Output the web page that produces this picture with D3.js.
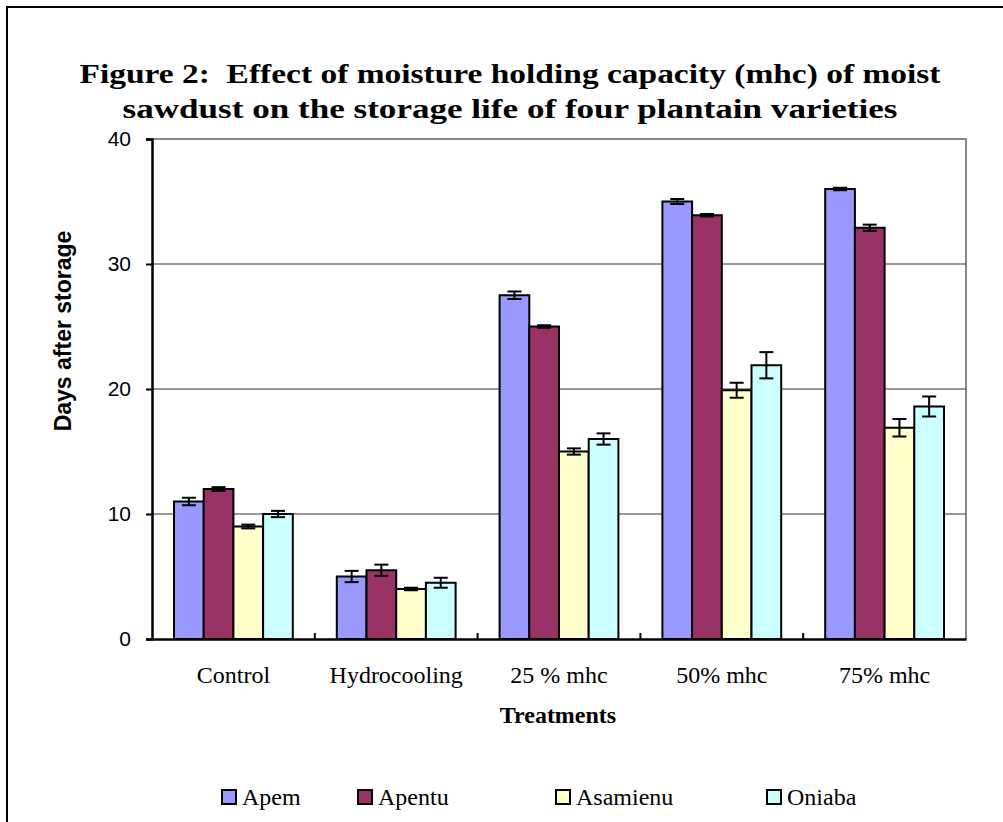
<!DOCTYPE html>
<html>
<head>
<meta charset="utf-8">
<script src="https://cdn.jsdelivr.net/npm/d3@7"></script>
<style>
  body { margin: 0; background: #fff; }
  svg { display: block; }
  .serif { font-family: "Liberation Serif", serif; }
  .sans { font-family: "Liberation Sans", Arial, sans-serif; }
</style>
</head>
<body>
<script>
const categories = ['Control', 'Hydrocooling', '25 % mhc', '50% mhc', '75% mhc']
const varieties = ['Apem', 'Apentu', 'Asamienu', 'Oniaba']
const colors = ['#9999ff', '#993366', '#ffffcc', '#ccffff']

// days after storage, one array per variety (in category order)
const apem = [11, 5, 27.5, 35, 36]
const apentu = [12, 5.5, 25, 33.9, 32.9]
const asamienu = [9, 4, 15, 19.9, 16.9]
const oniaba = [10, 4.5, 16, 21.9, 18.6]

// error bar half-widths
const apemErr = [0.3, 0.45, 0.3, 0.2, 0.1]
const apentuErr = [0.15, 0.45, 0.1, 0.1, 0.25]
const asamienuErr = [0.15, 0.1, 0.25, 0.6, 0.7]
const oniabaErr = [0.25, 0.4, 0.45, 1.05, 0.8]

const yTicks = [0, 10, 20, 30, 40]

const m = { width: 1003, height: 822 }
const plot = { left: 152, right: 966, top: 139, bottom: 639 }

const series = [apem, apentu, asamienu, oniaba]
const errs = [apemErr, apentuErr, asamienuErr, oniabaErr]

const rows = []
categories.forEach((c, i) => {
    varieties.forEach((v, j) => {
        rows.push({ cat: c, variety: v, value: series[j][i], err: errs[j][i], color: colors[j] })
    })
})

const svg = d3.select('body').append('svg')
    .attr('width', m.width)
    .attr('height', m.height)

// outer chart border
svg.append('rect')
    .attr('x', 7).attr('y', 7)
    .attr('width', 1100).attr('height', 900)
    .attr('fill', 'none')
    .attr('stroke', '#000')
    .attr('stroke-width', 2)

// title
const titleLines = [
    { t: 'Figure 2:  Effect of moisture holding capacity (mhc) of moist', y: 83, w: 861 },
    { t: 'sawdust on the storage life of four plantain varieties', y: 118, w: 775 }
]
svg.selectAll('.title')
    .data(titleLines)
    .enter()
    .append('text')
        .attr('class', 'serif')
        .attr('x', 510)
        .attr('y', d => d.y)
        .attr('text-anchor', 'middle')
        .attr('textLength', d => d.w)
        .attr('lengthAdjust', 'spacingAndGlyphs')
        .style('font-weight', 'bold')
        .style('font-size', '28px')
        .style('white-space', 'pre')
        .text(d => d.t)

const y = d3.scaleLinear()
    .domain([0, 40])
    .range([plot.bottom, plot.top])

const x0 = d3.scaleBand()
    .domain(categories)
    .range([plot.left, plot.right])
    .padding(0)

const gap = 22
const x1 = d3.scaleBand()
    .domain(varieties)
    .range([gap, x0.bandwidth() - gap])
    .padding(0)

// plot frame (top + right, grey)
svg.append('path')
    .attr('d', `M${plot.left},${plot.top}H${plot.right}V${plot.bottom}`)
    .attr('fill', 'none')
    .attr('stroke', '#888')
    .attr('stroke-width', 2)

// gridlines
svg.selectAll('.grid')
    .data(yTicks.filter(d => d > 0 && d < 40))
    .enter()
    .append('line')
        .attr('x1', plot.left)
        .attr('x2', plot.right)
        .attr('y1', d => y(d))
        .attr('y2', d => y(d))
        .attr('stroke', '#333')
        .attr('stroke-width', 1)

// bars
svg.selectAll('.bar')
    .data(rows)
    .enter()
    .append('rect')
        .attr('class', 'bar')
        .attr('x', d => x0(d.cat) + x1(d.variety))
        .attr('y', d => y(d.value))
        .attr('width', x1.bandwidth())
        .attr('height', d => y(0) - y(d.value))
        .attr('fill', d => d.color)
        .attr('stroke', '#000')
        .attr('stroke-width', 2)

// error bars
const eb = svg.selectAll('.err')
    .data(rows)
    .enter()
    .append('g')
        .attr('transform', d => `translate(${x0(d.cat) + x1(d.variety) + x1.bandwidth() / 2},0)`)
eb.append('line')
    .attr('y1', d => y(d.value + d.err))
    .attr('y2', d => y(d.value - d.err))
    .attr('stroke', '#000').attr('stroke-width', 2)
eb.append('line')
    .attr('x1', -7).attr('x2', 7)
    .attr('y1', d => y(d.value + d.err)).attr('y2', d => y(d.value + d.err))
    .attr('stroke', '#000').attr('stroke-width', 2)
eb.append('line')
    .attr('x1', -7).attr('x2', 7)
    .attr('y1', d => y(d.value - d.err)).attr('y2', d => y(d.value - d.err))
    .attr('stroke', '#000').attr('stroke-width', 2)

// y axis
const yAxis = svg.append('g')
    .attr('transform', `translate(${plot.left},0)`)
    .call(d3.axisLeft(y).tickValues(yTicks).tickSize(6).tickPadding(15))
yAxis.attr('font-family', null)
yAxis.select('.domain').attr('stroke-width', 2.5)
yAxis.selectAll('.tick line').attr('stroke-width', 2)
yAxis.selectAll('text')
    .attr('class', 'sans')
    .style('font-size', '21px')
    .attr('fill', '#000')

// x axis with ticks pointing inward at group boundaries
const xAxis = svg.append('g')
    .attr('transform', `translate(0,${plot.bottom})`)
    .call(d3.axisBottom(x0).tickSize(0).tickPadding(27))
xAxis.attr('font-family', null)
xAxis.select('.domain').attr('stroke-width', 2.5)
xAxis.selectAll('text')
    .attr('class', 'serif')
    .style('font-size', '24px')
    .attr('fill', '#000')
svg.selectAll('.xtick')
    .data(categories.slice(1))
    .enter()
    .append('line')
        .attr('x1', d => x0(d))
        .attr('x2', d => x0(d))
        .attr('y1', plot.bottom)
        .attr('y2', plot.bottom - 6)
        .attr('stroke', '#000')
        .attr('stroke-width', 2)

// axis titles
svg.append('text')
    .attr('class', 'sans')
    .attr('transform', 'translate(71,331) rotate(-90)')
    .attr('text-anchor', 'middle')
    .style('font-weight', 'bold')
    .style('font-size', '23px')
    .text('Days after storage')

svg.append('text')
    .attr('class', 'serif')
    .attr('x', 558)
    .attr('y', 723)
    .attr('text-anchor', 'middle')
    .style('font-weight', 'bold')
    .style('font-size', '24px')
    .text('Treatments')

// legend
const legendX = [222, 358, 556, 767]
const lg = svg.selectAll('.legend')
    .data(varieties)
    .enter()
    .append('g')
        .attr('transform', (d, i) => `translate(${legendX[i]},790)`)
lg.append('rect')
    .attr('width', 14).attr('height', 14)
    .attr('fill', (d, i) => colors[i])
    .attr('stroke', '#000')
    .attr('stroke-width', 2)
lg.append('text')
    .attr('class', 'serif')
    .attr('x', 20)
    .attr('y', 15)
    .style('font-size', '24px')
    .text(d => d)
</script>
</body>
</html>
